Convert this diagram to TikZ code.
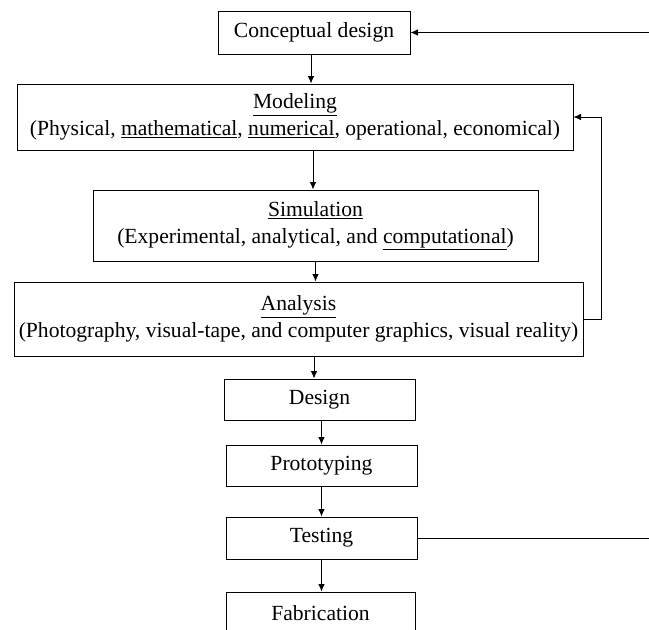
\documentclass[tikz,border=0pt]{standalone}
\usepackage{fontspec}
\setmainfont{Liberation Serif}
\usetikzlibrary{arrows.meta,calc}
\tikzset{
  box/.style={draw, line width=1pt, inner sep=0pt, align=center, font=\fontsize{21.6}{27}\selectfont},
  arr/.style={line width=0.8pt, -{Latex[length=7.5pt,width=6.5pt]}},
  ln/.style={line width=0.8pt}
}
\begin{document}
\begin{tikzpicture}[x=1pt,y=-1pt]
\clip (0,0) rectangle (649,630);
\node[box, minimum width=192, minimum height=43] (concept) at (314,32.5) {Conceptual design};
\node[box, minimum width=556, minimum height=66] (model) at (295,117) {\underline{Modeling}\\(Physical, \underline{mathematical}, \underline{numerical}, operational, economical)};
\node[box, minimum width=445, minimum height=71] (sim) at (315.5,225.5) {\underline{Simulation}\\(Experimental, analytical, and \underline{computational})};
\node[box, minimum width=569, minimum height=74] (anal) at (298.5,319) {\underline{Analysis}\\(Photography, visual-tape, and computer graphics, visual reality)};
\node[box, minimum width=191, minimum height=41] (design) at (319.5,399.5) {Design};
\node[box, minimum width=191, minimum height=41] (proto) at (321.5,465.5) {Prototyping};
\node[box, minimum width=191, minimum height=42] (test) at (321.5,538) {Testing};
\node[box, minimum width=189, minimum height=42] (fab) at (320.5,613) {Fabrication};
\coordinate (fbx) at (601,0);
\coordinate (edge) at (660,0);
% vertical flow
\draw[arr] ([xshift=-3pt]concept.south) -- ([xshift=-3pt]concept.south |- model.north);
\draw[arr] ([xshift=18pt]model.south) -- ([xshift=18pt]model.south |- sim.north);
\draw[arr] (sim.south) -- (sim.south |- anal.north);
\draw[arr] ([xshift=15.5pt]anal.south) -- ([xshift=15.5pt]anal.south |- design.north);
\draw[arr] (proto.north |- design.south) -- (proto.north);
\draw[arr] (proto.south) -- (proto.south |- test.north);
\draw[arr] (test.south) -- (test.south |- fab.north);
% feedback Analysis -> Modeling
\draw[arr] (anal.east) -- (anal.east -| fbx) -- (fbx |- model.east) -- (model.east);
% feedback Testing -> Conceptual design (off page)
\draw[ln] (test.east) -- (test.east -| edge);
\draw[arr] (concept.east -| edge) -- (concept.east);
\end{tikzpicture}
\end{document}
